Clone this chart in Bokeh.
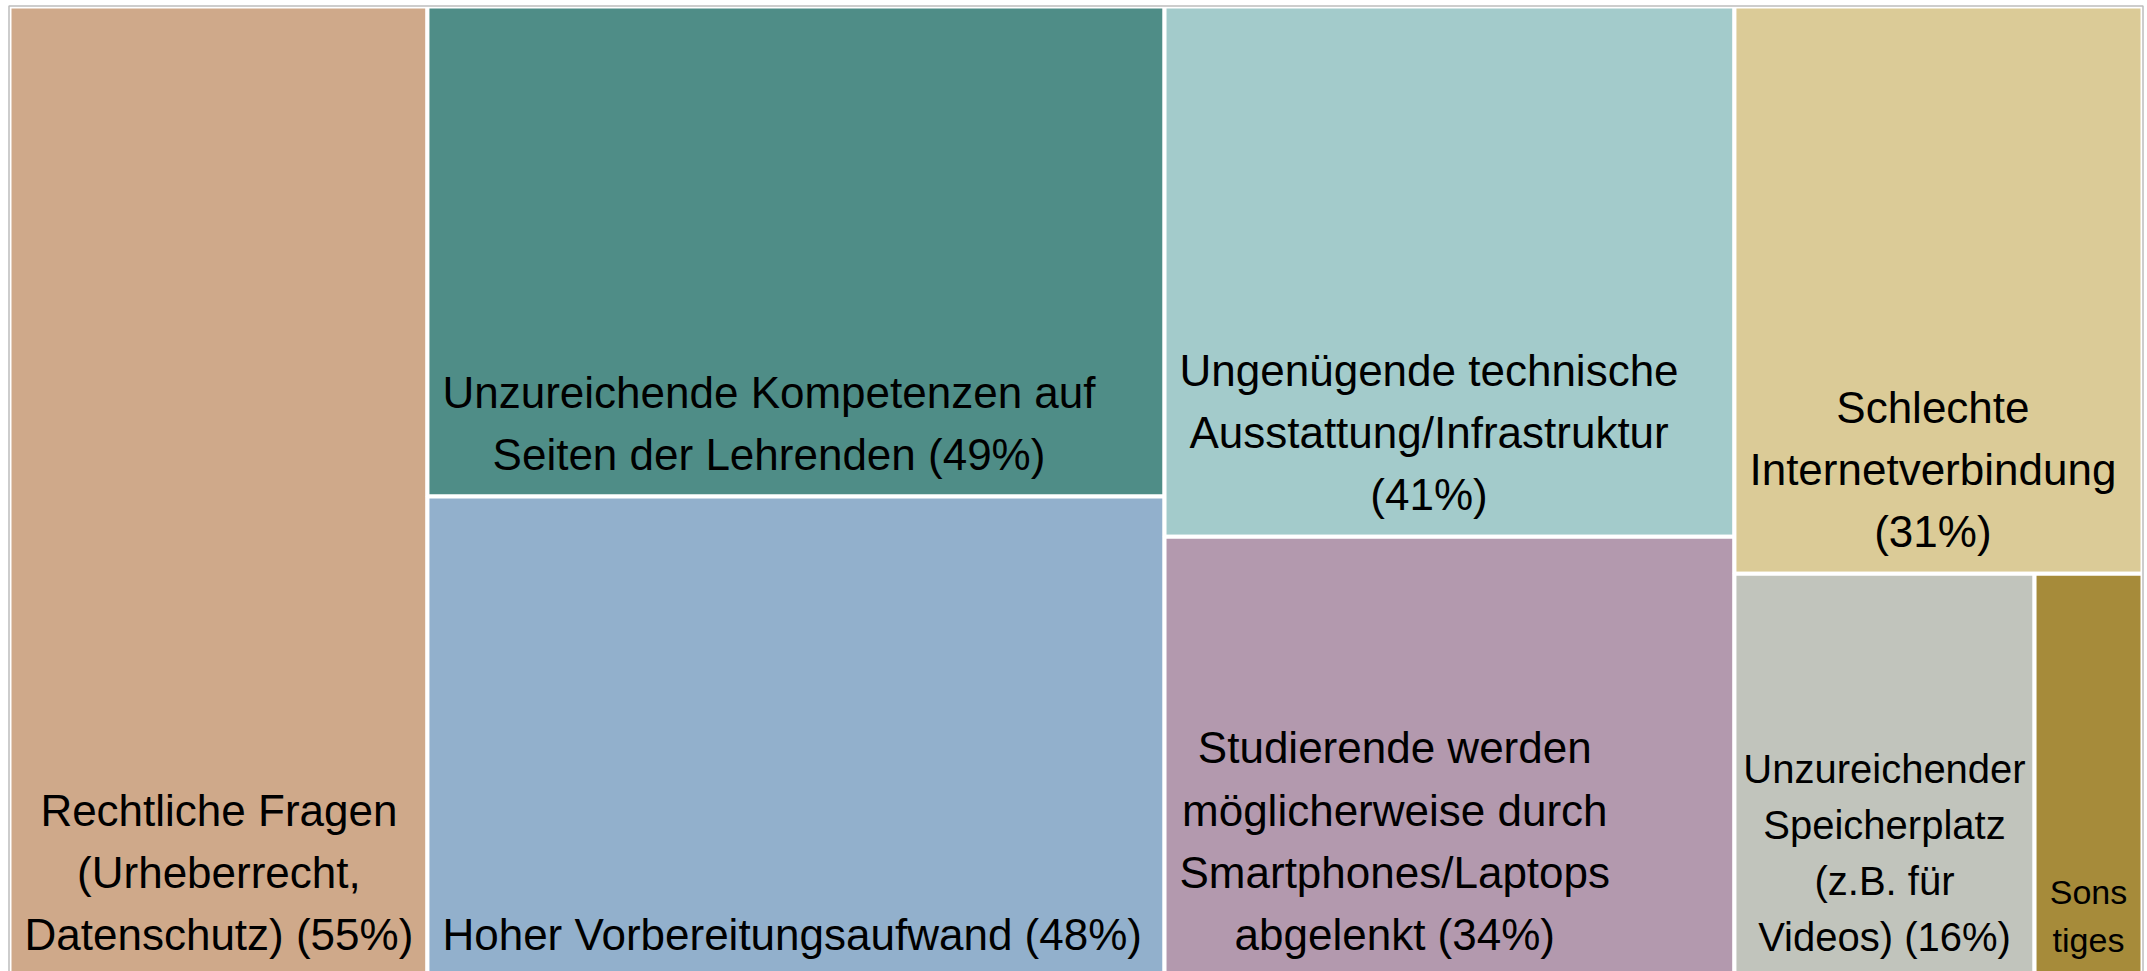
from bokeh.plotting import figure
from bokeh.models import ColumnDataSource, Range1d
from bokeh.core.properties import value
from bokeh.embed import file_html
from bokeh.resources import INLINE

# ---- data (small shares estimated from tile areas) ----
categories = [
    "Rechtliche Fragen (Urheberrecht, Datenschutz)",
    "Unzureichende Kompetenzen auf Seiten der Lehrenden",
    "Hoher Vorbereitungsaufwand",
    "Ungenügende technische Ausstattung/Infrastruktur",
    "Studierende werden möglicherweise durch Smartphones/Laptops abgelenkt",
    "Schlechte Internetverbindung",
    "Unzureichender Speicherplatz (z.B. für Videos)",
    "Sonstiges",
]
values = [55, 49, 48, 41, 34, 31.4, 16.4, 5.9]
labels = [
    "Rechtliche Fragen\n(Urheberrecht,\nDatenschutz) (55%)",
    "Unzureichende Kompetenzen auf\nSeiten der Lehrenden (49%)",
    "Hoher Vorbereitungsaufwand (48%)",
    "Ungenügende technische\nAusstattung/Infrastruktur\n(41%)",
    "Studierende werden\nmöglicherweise durch\nSmartphones/Laptops\nabgelenkt (34%)",
    "Schlechte\nInternetverbindung\n(31%)",
    "Unzureichender\nSpeicherplatz\n(z.B. für\nVideos) (16%)",
    "Sons\ntiges",
]
colors = ["#CFA98A", "#4F8D87", "#92B0CC", "#A3CBCB",
          "#B399AE", "#DBCB97", "#C1C4BC", "#A68B3A"]

# ---- treemap layout (columns, rows, sub-rows) ----
columns = [[0], [1, 2], [3, 4], [5, [6, 7]]]
X0, X1, Y0, Y1 = 9.0, 2142.0, 6.0, 976.0
GAP = 4


def val(item):
    return sum(values[i] for i in item) if isinstance(item, list) else values[item]


total = sum(values)
cells = {}
x = X0
for col in columns:
    csum = sum(val(it) for it in col)
    w = (X1 - X0) * csum / total
    y = Y0
    for it in col:
        h = (Y1 - Y0) * val(it) / csum
        if isinstance(it, list):
            xx = x
            for i in it:
                ww = w * values[i] / val(it)
                cells[i] = (xx, xx + ww, y, y + h)
                xx += ww
        else:
            cells[it] = (x, x + w, y, y + h)
        y += h
    x += w

idx = list(range(len(values)))
src = ColumnDataSource(dict(
    left=[cells[i][0] for i in idx],
    right=[cells[i][1] for i in idx],
    top=[cells[i][2] for i in idx],
    bottom=[cells[i][3] for i in idx],
    color=colors,
    name=categories,
))

W, H = 2147, 971
p = figure(width=W, height=H,
           x_range=Range1d(0, W), y_range=Range1d(H, 0),
           x_axis_type=None, y_axis_type=None,
           toolbar_location=None, output_backend="svg",
           min_border=0, outline_line_color=None,
           background_fill_color="white", border_fill_color="white")
p.grid.visible = False

p.quad(left="left", right="right", top="top", bottom="bottom", source=src,
       fill_color="color", line_color="white", line_width=GAP)

# outer frame line
p.quad(left=[X0 - 0.5], right=[X1 + 0.5], top=[Y0 - 0.5], bottom=[Y1 + 40],
       fill_color=None, line_color="#BDBDBD", line_width=1.5)

# labels: wide tiles -> block anchored at the lower-left with padding,
# narrow tiles -> block centred; lines centred inside the block
PAD_X, PAD_Y = 13, 15.5
wide = dict(x=[], y=[], text=[], size=[])
narrow = dict(x=[], y=[], text=[], size=[])
for i in idx:
    l, r, t, b = cells[i]
    cw = r - l - GAP
    if cw >= 320:
        d, xpos, fs = wide, l + GAP / 2 + PAD_X, "44px"
    else:
        d, xpos = narrow, (l + r) / 2
        fs = "40px" if cw >= 150 else "34px"
    d["x"].append(xpos)
    d["y"].append(b - GAP / 2 - PAD_Y)
    d["text"].append(labels[i])
    d["size"].append(fs)

for d, anchor in ((wide, "bottom_left"), (narrow, "bottom_center")):
    p.text(x="x", y="y", text="text", source=ColumnDataSource(d),
           anchor=anchor, text_align="center",
           text_font=value("Liberation Sans"), text_font_size="size",
           text_color="black", text_line_height=1.27)

open("out.html", "w").write(file_html(p, INLINE))
